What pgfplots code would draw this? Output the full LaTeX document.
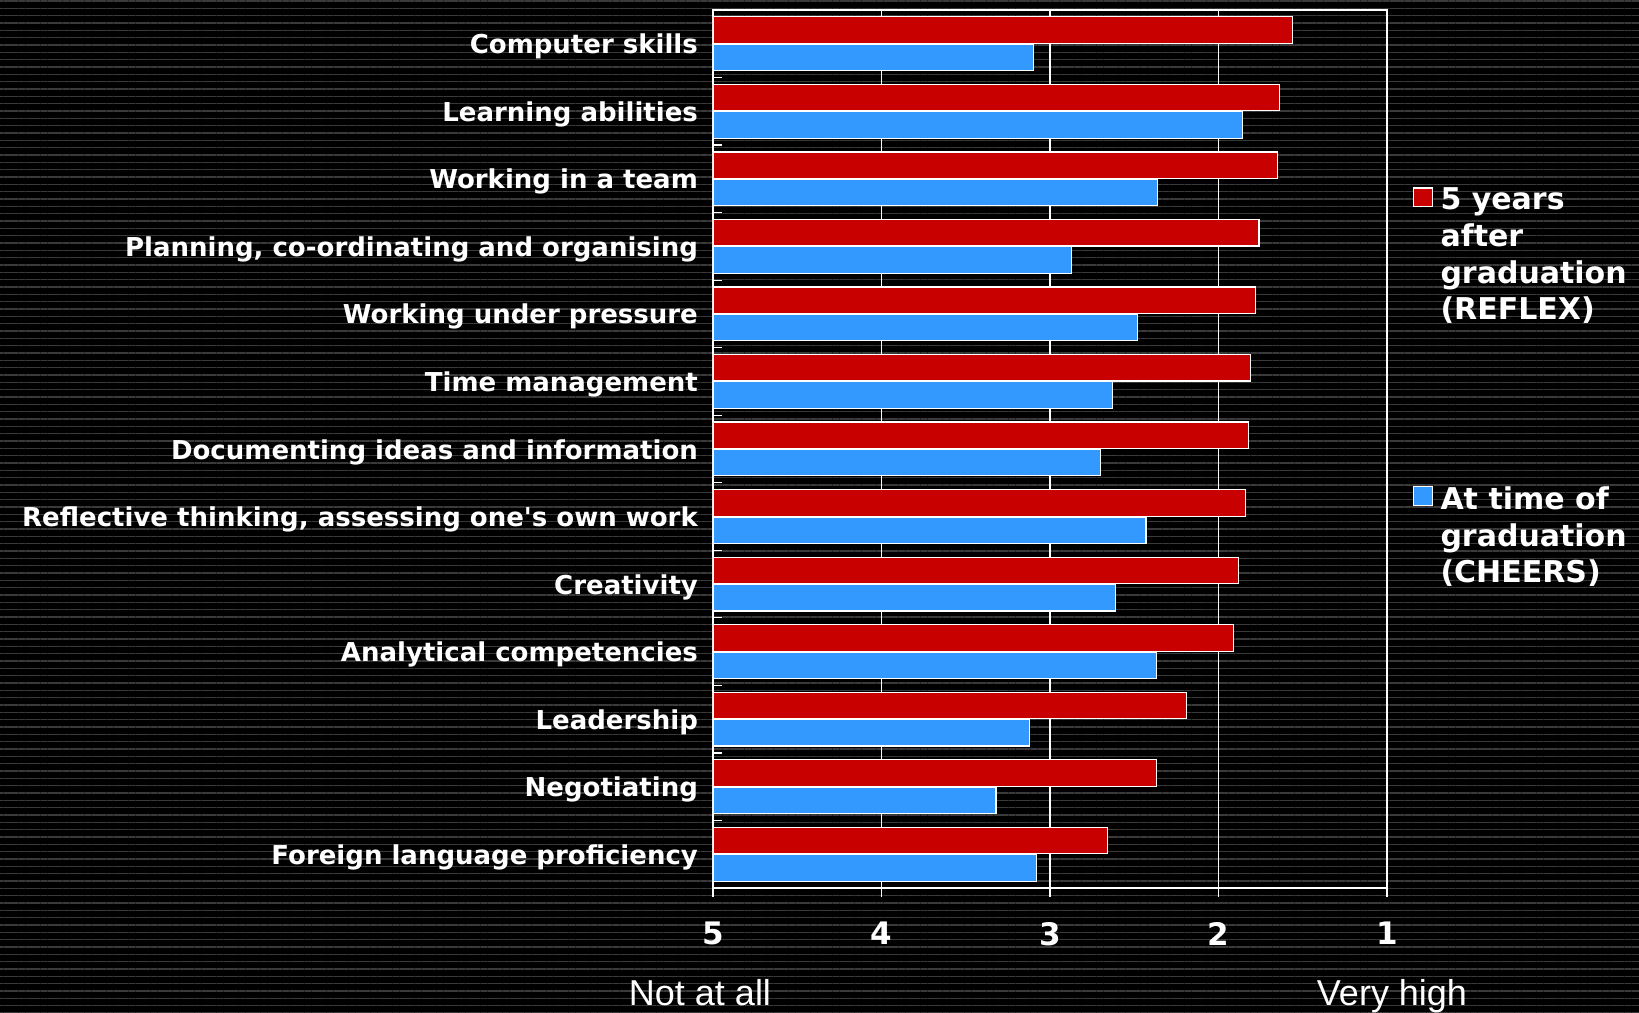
\documentclass[border=0pt]{standalone}
\usepackage{fontspec}
\usepackage{pgfplots}
\usepackage{pgfplotstable}
\pgfplotsset{compat=1.18}
\usetikzlibrary{patterns.meta}
\setmainfont{DejaVu Sans}
\newfontfamily\axfont{Liberation Sans}
\definecolor{reflexred}{RGB}{200,0,0}
\definecolor{cheersblue}{RGB}{51,153,255}
\definecolor{stripe}{RGB}{58,58,58}

% mean rating, 1 = very high, 5 = not at all
\pgfplotstableread{
y v
0 1.56
1 1.64
2 1.65
3 1.76
4 1.78
5 1.81
6 1.82
7 1.84
8 1.88
9 1.91
10 2.19
11 2.37
12 2.66
}\reflex
\pgfplotstableread{
y v
0 3.10
1 1.86
2 2.36
3 2.87
4 2.48
5 2.63
6 2.70
7 2.43
8 2.61
9 2.37
10 3.12
11 3.32
12 3.08
}\cheers

\begin{document}
\begin{tikzpicture}
  \path[use as bounding box, fill=black,
    postaction={pattern={Lines[angle=0,distance=2.2pt,line width=0.45pt]}, pattern color=stripe}]
    (-213.9pt,-37.5pt) rectangle (277.8pt,266.4pt);

  \begin{axis}[
    at={(0pt,0pt)}, anchor=south west,
    scale only axis, width=202.2pt, height=263.4pt,
    xbar, bar width=7.95pt,
    x coord trafo/.code={\pgfmathparse{5-#1}},
    x coord inv trafo/.code={\pgfmathparse{5-#1}},
    xmin=5, xmax=1,
    xtick={1,2,3,4,5},
    xmajorgrids,
    grid style={white, line width=0.35pt},
    ymin=-0.5, ymax=12.5, y dir=reverse,
    ytick={-0.5,0.5,...,12.5},
    y tick label as interval,
    yticklabels={Computer skills, Learning abilities, Working in a team,
      {Planning, co-ordinating and organising}, Working under pressure,
      Time management, Documenting ideas and information,
      {Reflective thinking, assessing one\textquotesingle s own work}, Creativity,
      Analytical competencies, Leadership, Negotiating,
      Foreign language proficiency},
    axis line style={white, line width=0.45pt},
    xtick align=outside, ytick align=inside,
    major tick length=2.7pt,
    tick style={white, line width=0.35pt},
    xtick pos=bottom, ytick pos=left,
    /pgf/number format/assume math mode=true,
    x tick label style={font=\bfseries\fontsize{9.3}{11}\selectfont, text=white, yshift=-4pt},
    y tick label style={font=\bfseries\fontsize{7.8}{9}\selectfont, text=white,
      xshift=-1pt, yshift=-0.9pt},
    legend image code/.code={\draw[#1] (0pt,-2pt) rectangle (5.6pt,-7.6pt);},
    legend style={at={(1,1)}, anchor=north west, xshift=7.8pt, yshift=-51.4pt,
      draw=none, fill=none, inner sep=0pt, outer sep=0pt,
      column sep=0.3pt, row sep=44.6pt,
      cells={anchor=north west, align=left, inner sep=0pt, text=white,
        font=\bfseries\fontsize{9}{11}\selectfont}},
  ]
    \addplot[fill=reflexred, draw=white, line width=0.35pt, bar shift=4.1pt]
      table[x=v, y=y] {\reflex};
    \addlegendentry{5 years\\after\\graduation\\(REFLEX)}
    \addplot[fill=cheersblue, draw=white, line width=0.35pt, bar shift=-4.1pt]
      table[x=v, y=y] {\cheers};
    \addlegendentry{At time of\\graduation\\(CHEERS)}
  \end{axis}

  \node[font=\axfont\fontsize{10.8}{12}\selectfont, text=white, anchor=base]
    at (-3.9pt,-35.4pt) {Not at all};
  \node[font=\axfont\fontsize{10.8}{12}\selectfont, text=white, anchor=base]
    at (203.7pt,-35.4pt) {Very high};
\end{tikzpicture}
\end{document}
